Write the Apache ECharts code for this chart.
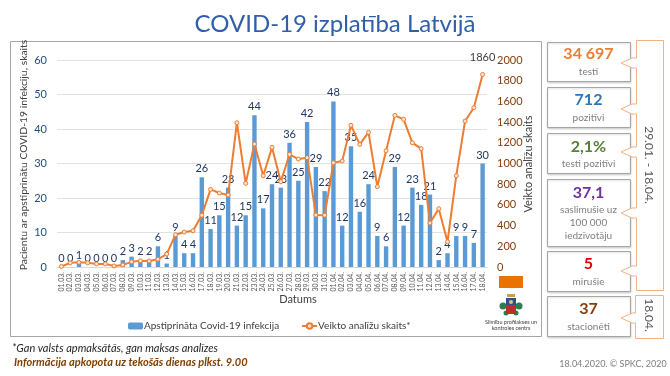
<!DOCTYPE html>
<html>
<head>
<meta charset="utf-8">
<title>COVID-19 izplatība Latvijā</title>
<script src="https://cdn.jsdelivr.net/npm/echarts@6/dist/echarts.min.js"></script>
<style>
  html, body { margin: 0; padding: 0; background: #fff; }
  #chart { width: 670px; height: 376px; }
</style>
</head>
<body>
<div id="chart"></div>
<script>
// datumi
const categories = [
  "01.03.", "02.03.", "03.03.", "04.03.", "05.03.", "06.03.", "07.03.", "08.03.", "09.03.", "10.03.",
  "11.03.", "12.03.", "13.03.", "14.03.", "15.03.", "16.03.", "17.03.", "18.03.", "19.03.", "20.03.",
  "21.03.", "22.03.", "23.03.", "24.03.", "25.03.", "26.03.", "27.03.", "28.03.", "29.03.", "30.03.",
  "31.03.", "01.04.", "02.04.", "03.04.", "04.04.", "05.04.", "06.04.", "07.04.", "08.04.", "09.04.",
  "10.04.", "11.04.", "12.04.", "13.04.", "14.04.", "15.04.", "16.04.", "17.04.", "18.04."
];
const confirmed = [
  0, 0, 1, 0, 0, 0, 0, 2, 3, 2,
  2, 6, 1, 9, 4, 4, 26, 11, 15, 23,
  12, 15, 44, 17, 24, 23, 36, 25, 42, 29,
  22, 48, 12, 35, 16, 24, 9, 6, 29, 12,
  23, 18, 21, 2, 4, 9, 9, 7, 30
];
const tests = [
  5, 40, 45, 40, 30, 30, 10, 20, 50, 60,
  58, 75, 125, 312, 338, 350, 500, 750, 715, 695,
  1394, 808, 1188, 882, 1156, 824, 1088, 1043, 1056, 502,
  500, 1007, 1024, 1369, 1185, 1301, 776, 1123, 1465, 1427,
  1200, 1143, 425, 563, 244, 882, 1410, 1539, 1860
];

const leftTicks = { min: 0, max: 60, interval: 10 };
const rightTicks = { min: 0, max: 2000, interval: 200 };

// labā puse
const statValues = ["34 697", "712", "2,1%", "37,1", "5", "37"];
const statLabels = ["testi", "pozitīvi", "testi pozitīvi", "saslimušie uz\n100 000\niedzīvotāju", "mirušie", "stacionēti"];
const statColors = ["#ed7d31", "#2e75b6", "#548235", "#7030a0", "#e00000", "#843c0c"];
const boxTop = [42, 87, 133, 179, 251, 296];
const boxBottom = [81, 127, 173, 246, 291, 336];
const valueY = [54, 100, 147, 193, 264, 309];
const labelY = [72, 118, 164, 223, 282, 327];
const tipY = [63, 109, 152, 213, 271];

const fontName = "Lato";
const calloutColor = "#f4b183";

const textEl = (x, y, text, size, fill, extra) => ({
  type: "text",
  x: x,
  y: y,
  z: 10,
  silent: true,
  style: Object.assign({
    text: text,
    fontFamily: fontName,
    fontSize: size,
    fill: fill,
    align: "center",
    verticalAlign: "middle"
  }, extra || {})
});

const graphics = [];

// rāmis ap diagrammu
graphics.push({
  type: "rect",
  z: -1,
  silent: true,
  shape: { x: 10.5, y: 41.5, width: 531, height: 295 },
  style: { fill: "none", stroke: "#a6a6a6", lineWidth: 1 }
});

// kastes ar skaitļiem
statValues.forEach((val, i) => {
  graphics.push({
    type: "rect",
    silent: true,
    shape: { x: 547.5, y: boxTop[i] + 0.5, width: 83, height: boxBottom[i] - boxTop[i] },
    style: {
      fill: "#fff",
      stroke: "#a6a6a6",
      lineWidth: 1,
      shadowColor: "rgba(0,0,0,0.15)",
      shadowBlur: 2,
      shadowOffsetY: 1
    }
  });
  graphics.push(textEl(588.5, valueY[i], val, 16, statColors[i], { fontWeight: "bold" }));
  graphics.push(textEl(588.5, labelY[i], statLabels[i], 10, "#7f7f7f", { lineHeight: 13 }));
});

// lielais "callout" 29.01. - 18.04.
const bigOutline = [[636.5, 40.5], [663.5, 40.5], [663.5, 290.5], [636.5, 290.5]];
[...tipY].reverse().forEach((y) => {
  bigOutline.push([636.5, y + 5], [632, y + 5], [621, y], [632, y - 5], [636.5, y - 5]);
});
graphics.push({
  type: "polygon",
  silent: true,
  shape: { points: bigOutline },
  style: { fill: "#fff", stroke: calloutColor, lineWidth: 1 }
});
graphics.push(textEl(649, 165, "29.01. - 18.04.", 12, "#595959", { }));
graphics[graphics.length - 1].rotation = -Math.PI / 2;

// mazais "callout" 18.04.
graphics.push({
  type: "polygon",
  silent: true,
  shape: {
    points: [[635.5, 295.5], [663.5, 295.5], [663.5, 338.5], [635.5, 338.5], [635.5, 323], [632, 323], [621, 318], [632, 313], [635.5, 313]]
  },
  style: { fill: "#fff", stroke: calloutColor, lineWidth: 1 }
});
graphics.push(textEl(649, 315, "18.04.", 12, "#595959"));
graphics[graphics.length - 1].rotation = -Math.PI / 2;

// oranžais taisnstūris
graphics.push({
  type: "rect",
  silent: true,
  shape: { x: 499, y: 276, width: 24, height: 12 },
  style: { fill: "#e97200" }
});

// SPKC logo, vienkāršots
graphics.push(
  { type: "circle", silent: true, shape: { cx: 503, cy: 306, r: 3.5 }, style: { fill: "#2e7d4f" } },
  { type: "circle", silent: true, shape: { cx: 519, cy: 306, r: 3.5 }, style: { fill: "#2e7d4f" } },
  { type: "circle", silent: true, shape: { cx: 506, cy: 313, r: 2.5 }, style: { fill: "#2e7d4f" } },
  { type: "circle", silent: true, shape: { cx: 516, cy: 313, r: 2.5 }, style: { fill: "#2e7d4f" } },
  { type: "rect", silent: true, shape: { x: 506, y: 298, width: 10, height: 7 }, style: { fill: "#2f4f8f" } },
  { type: "rect", silent: true, shape: { x: 506, y: 305, width: 10, height: 9 }, style: { fill: "#b5322c" } },
  { type: "circle", silent: true, shape: { cx: 511, cy: 302, r: 2 }, style: { fill: "#e8c45a" } },
  { type: "rect", silent: true, shape: { x: 507, y: 294, width: 8, height: 3 }, style: { fill: "#c9a23f" } }
);
graphics.push(textEl(511, 322, "Slimību profilakses un", 5.5, "#404040"));
graphics.push(textEl(511, 328, "kontroles centrs", 5.5, "#404040"));

// virsraksts un teksti
graphics.push(textEl(335, 24, "COVID-19 izplatība Latvijā", 24, "#2f5fa8"));
graphics.push(textEl(298, 299, "Datums", 11, "#404040"));
graphics.push(textEl(24, 155, "Pacientu ar apstiprinātu COVID-19 infekciju, skaits", 10.4, "#404040"));
graphics[graphics.length - 1].rotation = Math.PI / 2;
graphics.push(textEl(528, 164, "Veikto analīžu skaits", 11, "#404040"));
graphics[graphics.length - 1].rotation = Math.PI / 2;
graphics.push(textEl(12, 348, "*Gan valsts apmaksātās, gan maksas analīzes", 11, "#262626", { align: "left", fontStyle: "italic" }));
graphics.push(textEl(14, 362, "Informācija apkopota uz tekošās dienas plkst. 9.00", 11, "#7f3f00", { align: "left", fontStyle: "italic", fontWeight: "bold" }));
graphics.push(textEl(613, 364, "18.04.2020. © SPKC, 2020", 9, "#7f7f7f"));

const chart = echarts.init(document.getElementById("chart"));

chart.setOption({
  animation: false,
  backgroundColor: "#fff",
  textStyle: { fontFamily: fontName },
  grid: { left: 57, right: 183, top: 60, bottom: 109, containLabel: false },
  legend: {
    left: 123,
    top: 316,
    itemWidth: 15,
    itemHeight: 7,
    itemGap: 22,
    textStyle: { fontFamily: fontName, fontSize: 10, color: "#404040", padding: [0, 0, 0, -4] },
    data: [
      { name: "Apstiprināta Covid-19 infekcija" },
      { name: "Veikto analīžu skaits*" }
    ]
  },
  xAxis: {
    type: "category",
    data: categories,
    axisTick: { show: false },
    axisLine: { lineStyle: { color: "#d9d9d9" } },
    axisLabel: {
      interval: 0,
      rotate: 90,
      fontSize: 7,
      color: "#595959",
      margin: 5
    }
  },
  yAxis: [
    {
      type: "value",
      min: leftTicks.min,
      max: leftTicks.max,
      interval: leftTicks.interval,
      axisLine: { show: false },
      axisTick: { show: false },
      axisLabel: { fontSize: 11, color: "#1f4e79", margin: 10 },
      splitLine: { lineStyle: { color: "#e2e2e2" } }
    },
    {
      type: "value",
      min: rightTicks.min,
      max: rightTicks.max,
      interval: rightTicks.interval,
      position: "right",
      axisLine: { show: false },
      axisTick: { show: false },
      axisLabel: { fontSize: 11, color: "#843c0c", margin: 10, formatter: (v) => String(v) },
      splitLine: { show: false }
    }
  ],
  series: [
    {
      name: "Apstiprināta Covid-19 infekcija",
      type: "bar",
      yAxisIndex: 0,
      barWidth: "50%",
      data: confirmed,
      itemStyle: { color: "#5b9bd5" },
      label: {
        show: true,
        position: "top",
        distance: 3,
        fontSize: 11,
        color: "#1f3864"
      }
    },
    {
      name: "Veikto analīžu skaits*",
      type: "line",
      yAxisIndex: 1,
      data: tests,
      symbol: "circle",
      symbolSize: 4,
      itemStyle: { color: "#fbe5d6", borderColor: "#ed7d31", borderWidth: 1 },
      lineStyle: { color: "#ed7d31", width: 2 },
      label: {
        show: true,
        position: "top",
        distance: 9,
        fontSize: 11,
        color: "#404040",
        formatter: (p) => (p.dataIndex === tests.length - 1 ? p.value : "")
      }
    }
  ],
  graphic: graphics
});
</script>
</body>
</html>
